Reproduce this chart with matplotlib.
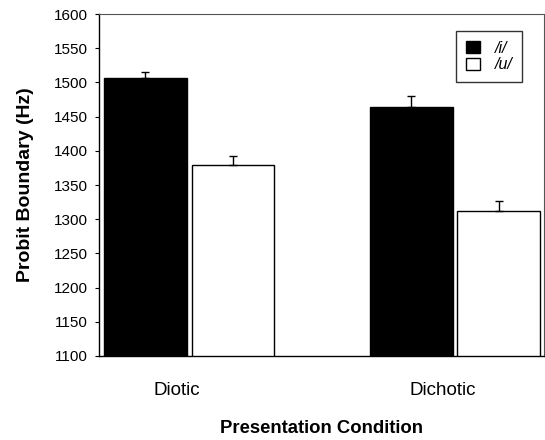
import numpy as np
import matplotlib
matplotlib.use("Agg")
import matplotlib.pyplot as plt

# data
conditions = ['Diotic', 'Dichotic']
series_names = ['/i/', '/u/']
vals_i = [1506, 1464]
vals_u = [1379, 1312]
err_i = [10, 16]
err_u = [13, 14]

plt.rcParams['font.family'] = ['Liberation Sans', 'DejaVu Sans']

fig = plt.figure(figsize=(5.45, 4.4), dpi=100)
ax = fig.add_axes([0.1817, 0.191, 0.8165, 0.777])

grp = np.array([0.405, 1.6])
off = 0.197
w = 0.372

ax.bar(grp - off, vals_i, w, color='black', edgecolor='black', linewidth=1, label=series_names[0])
ax.bar(grp + off, vals_u, w, color='white', edgecolor='black', linewidth=1, label=series_names[1])

# upper error bars only
ax.errorbar(grp - off, vals_i, yerr=[np.zeros(2), err_i], fmt='none', ecolor='black',
            elinewidth=1, capsize=3, capthick=1)
ax.errorbar(grp + off, vals_u, yerr=[np.zeros(2), err_u], fmt='none', ecolor='black',
            elinewidth=1, capsize=3, capthick=1)

ax.set_xlim(0, 2)
ax.set_ylim(1100, 1600)
ax.set_yticks(np.arange(1100, 1601, 50))
ax.tick_params(axis='y', direction='out', length=3, width=0.8, labelsize=11, pad=5)
ax.set_xticks(grp - 0.055)
ax.set_xticklabels(conditions, fontsize=13.5)
ax.tick_params(axis='x', length=0, pad=19)

for s in ['left', 'bottom']:
    ax.spines[s].set_linewidth(1.0)
for s in ['top', 'right']:
    ax.spines[s].set_linewidth(0.8)
    ax.spines[s].set_color('#555555')

ax.set_ylabel('Probit Boundary (Hz)', fontsize=14, fontweight='bold', labelpad=14)
ax.set_xlabel('Presentation Condition', fontsize=13.3, fontweight='bold', labelpad=15)

leg = ax.legend(loc='upper right', bbox_to_anchor=(0.951, 0.950), borderaxespad=0,
                prop={'size': 11.5, 'style': 'italic'}, frameon=True,
                fancybox=False, edgecolor='black', handlelength=0.9, handleheight=0.75,
                handletextpad=0.9, borderpad=0.6, labelspacing=0.1)
leg.get_frame().set_linewidth(1.0)

fig.savefig('out.png', dpi=100)
